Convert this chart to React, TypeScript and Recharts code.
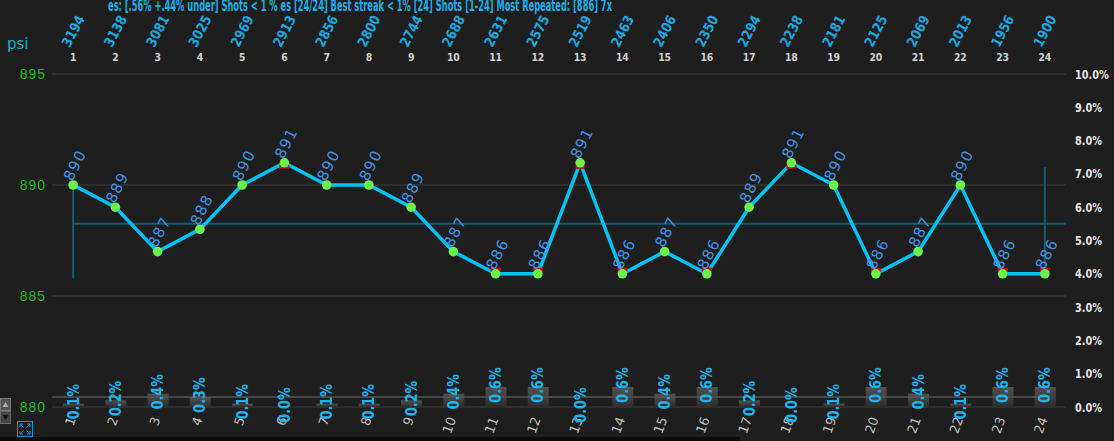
import {
  ComposedChart,
  Line,
  Bar,
  LabelList,
  XAxis,
  YAxis,
  CartesianGrid,
  ReferenceLine,
} from "recharts";

const shots = ["1", "2", "3", "4", "5", "6", "7", "8", "9", "10", "11", "12", "13", "14", "15", "16", "17", "18", "19", "20", "21", "22", "23", "24"];
const psiValues = [890, 889, 887, 888, 890, 891, 890, 890, 889, 887, 886, 886, 891, 886, 887, 886, 889, 891, 890, 886, 887, 890, 886, 886];
const topValues = [3194, 3138, 3081, 3025, 2969, 2913, 2856, 2800, 2744, 2688, 2631, 2575, 2519, 2463, 2406, 2350, 2294, 2238, 2181, 2125, 2069, 2013, 1956, 1900];
const deviation = [0.1, 0.2, 0.4, 0.3, 0.1, 0.0, 0.1, 0.1, 0.2, 0.4, 0.6, 0.6, 0.0, 0.6, 0.4, 0.6, 0.2, 0.0, 0.1, 0.6, 0.4, 0.1, 0.6, 0.6];
const psiTicks = [880, 885, 890, 895];
const pctTicks = [0, 1, 2, 3, 4, 5, 6, 7, 8, 9, 10];
const avgPsi = 888.25;
const avgDeviation = 0.3;
const firstRange = [885.8, 890];
const lastRange = [886, 890.8];
const title =
  "es: [.56% +.44% under] Shots < 1 % es [24/24] Best streak < 1% [24] Shots [1-24] Most Repeated: [886] 7x";

const minPsi = Math.min(...psiValues);
const maxPsi = Math.max(...psiValues);

const data = shots.map((s, i) => ({
  shot: s,
  psi: psiValues[i],
  top: topValues[i],
  dev: deviation[i],
}));

const SANS = "'DejaVu Sans', sans-serif";

function TopTick(props: any) {
  const { x, payload, index } = props;
  return (
    <g>
      <text
        transform={`translate(${x},31) rotate(-62) scale(0.85,1)`}
        textAnchor="middle"
        dominantBaseline="central"
        fontSize={14}
        fontWeight="bold"
        fontFamily={SANS}
        fill="#1ba8e0"
      >
        {topValues[index]}
      </text>
      <text
        transform={`translate(${x},61) scale(0.85,1)`}
        textAnchor="middle"
        fontSize={11}
        fontWeight="bold"
        fontFamily={SANS}
        fill="#cfcfcf"
      >
        {payload.value}
      </text>
    </g>
  );
}

function BottomTick(props: any) {
  const { x, payload } = props;
  return (
    <text
      transform={`translate(${x + 3},419) rotate(-70)`}
      textAnchor="end"
      fontSize={13}
      fontFamily={SANS}
      fill="#bdbdbd"
    >
      {payload.value}
    </text>
  );
}

function LeftTick(props: any) {
  const { y, payload } = props;
  return (
    <text
      x={46}
      y={y}
      textAnchor="end"
      dominantBaseline="central"
      fontSize={14}
      letterSpacing={1}
      fontFamily="'Liberation Sans', sans-serif"
      fill="#1fb81f"
    >
      {payload.value}
    </text>
  );
}

function RightTick(props: any) {
  const { y, payload } = props;
  return (
    <text
      transform={`translate(1075,${y}) scale(0.75,1)`}
      textAnchor="start"
      dominantBaseline="central"
      fontSize={13}
      fontWeight="bold"
      fontFamily={SANS}
      fill="#e6e6e6"
    >
      {`${Number(payload.value).toFixed(1)}%`}
    </text>
  );
}

function PsiDot(props: any) {
  const { cx, cy, value } = props;
  if (cx == null || cy == null) return <g />;
  return (
    <g>
      {value === minPsi && <rect x={cx - 5} y={cy - 6} width={10} height={4} fill="#c01010" />}
      {value === maxPsi && <rect x={cx - 5} y={cy + 2} width={10} height={4} fill="#c01010" />}
      <circle cx={cx} cy={cy} r={4.8} fill="#6cf04c" />
    </g>
  );
}

function PsiLabel(props: any) {
  const { x, y, value } = props;
  return (
    <text
      transform={`translate(${x - 1},${y - 3}) rotate(-63)`}
      textAnchor="start"
      fontSize={15}
      letterSpacing={1.2}
      fontFamily={SANS}
      fill="#3f93e4"
    >
      {value}
    </text>
  );
}

function DevLabel(props: any) {
  const { x, y, value } = props;
  return (
    <text
      transform={`translate(${x},${y - 2}) rotate(-90) scale(0.85,1)`}
      textAnchor="middle"
      dominantBaseline="central"
      fontSize={15}
      fontWeight="bold"
      fontFamily={SANS}
      fill="#1bb4ea"
    >
      {`${Number(value).toFixed(1)}%`}
    </text>
  );
}

// average lines start at the first shot, not the plot edge
function FromFirstShot(color: string, width: number) {
  return (p: any) => {
    const half = (p.x2 - p.x1) / shots.length / 2;
    return <line x1={p.x1 + half} y1={p.y1} x2={p.x2} y2={p.y2} stroke={color} strokeWidth={width} />;
  };
}

function CornerWidgets() {
  return (
    <svg width={40} height={44} style={{ position: "absolute", left: 0, top: 397 }}>
      <rect x={0.5} y={1.5} width={10} height={12} fill="#555" stroke="#777" />
      <path d="M2.5 10 L5.5 5 L8.5 10 Z" fill="#aaa" />
      <rect x={0.5} y={14.5} width={10} height={12} fill="#444" stroke="#666" />
      <path d="M2.5 18 L5.5 23 L8.5 18 Z" fill="#111" />
      <rect x={17.5} y={24.5} width={15} height={15} fill="none" stroke="#1a8fd6" />
      <path
        d="M20 27 L23 27 M20 27 L20 30 M30 27 L27 27 M30 27 L30 30 M20 37 L23 37 M20 37 L20 34 M30 37 L27 37 M30 37 L30 34 M20 27 L23.5 30.5 M30 27 L26.5 30.5 M20 37 L23.5 33.5 M30 37 L26.5 33.5"
        stroke="#1a8fd6"
        strokeWidth={1}
        fill="none"
      />
    </svg>
  );
}

export default function App() {
  return (
    <div
      style={{
        position: "fixed",
        left: 0,
        top: 0,
        width: 1114,
        height: 441,
        background: "#1e1e1e",
        overflow: "hidden",
      }}
    >
      <ComposedChart width={1114} height={441} data={data} margin={{ top: 0, right: 0, bottom: 0, left: 0 }}>
        <defs>
          <linearGradient id="barGrad" x1="0" y1="0" x2="0" y2="1">
            <stop offset="0%" stopColor="#525252" />
            <stop offset="100%" stopColor="#2c2c2c" />
          </linearGradient>
        </defs>
        <CartesianGrid yAxisId="left" xAxisId="bottom" vertical={false} stroke="#343434" strokeWidth={1.5} />
        <XAxis
          xAxisId="top"
          orientation="top"
          dataKey="shot"
          height={74}
          axisLine={false}
          tickLine={false}
          interval={0}
          tick={<TopTick />}
        />
        <XAxis
          xAxisId="bottom"
          dataKey="shot"
          height={34}
          axisLine={false}
          tickLine={false}
          interval={0}
          tick={<BottomTick />}
        />
        <YAxis
          yAxisId="left"
          width={52}
          domain={[880, 895]}
          ticks={psiTicks}
          axisLine={false}
          tickLine={false}
          tick={<LeftTick />}
        />
        <YAxis
          yAxisId="right"
          orientation="right"
          width={48}
          domain={[0, 10]}
          ticks={pctTicks}
          axisLine={false}
          tickLine={false}
          tick={<RightTick />}
        />
        <Bar xAxisId="bottom" yAxisId="right" dataKey="dev" barSize={21} fill="url(#barGrad)" isAnimationActive={false} />
        <ReferenceLine
          xAxisId="bottom"
          yAxisId="right"
          y={avgDeviation}
          shape={FromFirstShot("#555555", 1.5)}
        />
        <ReferenceLine
          xAxisId="bottom"
          yAxisId="left"
          y={avgPsi}
          shape={FromFirstShot("#0f5d70", 2)}
        />
        <ReferenceLine
          xAxisId="bottom"
          yAxisId="left"
          segment={[
            { x: shots[0], y: firstRange[0] },
            { x: shots[0], y: firstRange[1] },
          ]}
          stroke="#0f5d70"
          strokeWidth={2}
        />
        <ReferenceLine
          xAxisId="bottom"
          yAxisId="left"
          segment={[
            { x: shots[shots.length - 1], y: lastRange[0] },
            { x: shots[shots.length - 1], y: lastRange[1] },
          ]}
          stroke="#0f5d70"
          strokeWidth={2}
        />
        {/* invisible carrier for the bar percentage labels, so 0.0% is labelled too */}
        <Line
          xAxisId="bottom"
          yAxisId="right"
          dataKey="dev"
          stroke="none"
          dot={false}
          activeDot={false}
          isAnimationActive={false}
        >
          <LabelList dataKey="dev" content={<DevLabel />} />
        </Line>
        <Line
          xAxisId="bottom"
          yAxisId="left"
          type="linear"
          dataKey="psi"
          stroke="#00c3f5"
          strokeWidth={3.5}
          dot={(p: any) => <PsiDot key={`dot-${p.index}`} {...p} />}
          activeDot={false}
          isAnimationActive={false}
        >
          <LabelList dataKey="psi" content={<PsiLabel />} />
        </Line>
      </ComposedChart>
      <svg width={1114} height={60} style={{ position: "absolute", left: 0, top: 0 }}>
        <text
          x={108}
          y={11}
          fontSize={15}
          fontWeight="bold"
          fontFamily={SANS}
          fill="#1db0ea"
          textLength={504}
          lengthAdjust="spacingAndGlyphs"
        >
          {title}
        </text>
        <text x={7} y={49} fontSize={15} fontFamily={SANS} fill="#1ab0c8">
          psi
        </text>
      </svg>
      <CornerWidgets />
      <div style={{ position: "absolute", left: 0, top: 437, width: 740, height: 4, background: "#0c0c0c" }} />
    </div>
  );
}
